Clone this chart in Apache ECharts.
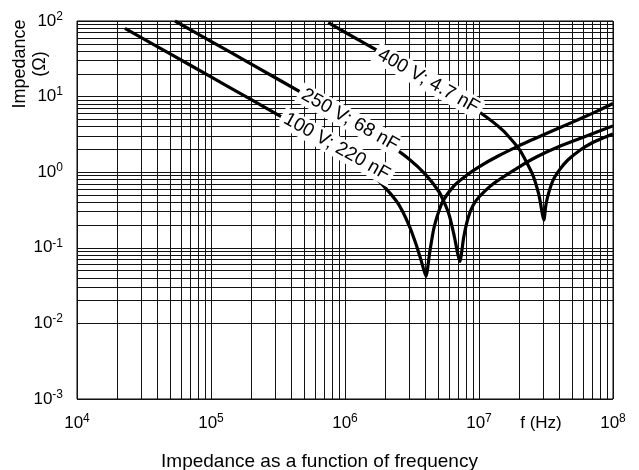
<!DOCTYPE html>
<html>
<head>
<meta charset="utf-8">
<script src="https://cdn.jsdelivr.net/npm/echarts@6/dist/echarts.min.js"></script>
<style>html,body{margin:0;padding:0;background:#fff}#c{width:639px;height:470px}</style>
</head>
<body>
<div id="c"></div>
<script>
// Frequency (Hz), impedance (Ohm)
const curve100V = [[22800,80],[50000,36.5],[100000,18.2],[200000,9.1],[500000,3.6],[1e6,1.72],[1.5e6,1.02],[2e6,0.62],[2.5e6,0.38],[3e6,0.2],[3.4e6,0.11],[3.7e6,0.068],[4.02e6,0.042],[4.3e6,0.09],[4.6e6,0.18],[5e6,0.30],[5.4e6,0.42],[6.5e6,0.66],[8e6,0.9],[1e7,1.18],[1.4e7,1.65],[2e7,2.25],[3e7,3.1],[5e7,4.6],[7e7,6.0],[1e8,8.1]];
const curve250V = [[53800,100],[100000,53.8],[200000,26.9],[500000,10.7],[1e6,5.3],[2e6,2.5],[3e6,1.5],[4e6,0.93],[5e6,0.56],[5.5e6,0.40],[6e6,0.27],[6.5e6,0.15],[7.2e6,0.066],[7.7e6,0.14],[8.3e6,0.25],[9e6,0.36],[1e7,0.47],[1.3e7,0.72],[2e7,1.18],[2.7e7,1.6],[4e7,2.2],[6e7,2.9],[1e8,4.1]];
const curve400V = [[750000,95],[1e6,71],[2e6,35.5],[5e6,14],[1e7,6.3],[1.5e7,3.6],[2e7,2.0],[2.5e7,0.95],[2.8e7,0.5],[3.05e7,0.233],[3.15e7,0.36],[3.3e7,0.52],[3.58e7,0.79],[4e7,1.08],[4.6e7,1.45],[5.7e7,1.97],[7e7,2.45],[8.5e7,2.85],[1e8,3.2]];
const curveLabels = ['100 V; 220 nF','250 V; 68 nF','400 V; 4.7 nF'];
const labelAnchors = [[8.67e5,2.17],[1.09e6,4.9],[4.19e6,16]];
const xDecades = [4,5,6,7,8];
const yDecades = [-3,-2,-1,0,1,2];
const titleText = 'Impedance as a function of frequency';
const yName = 'Impedance\n(Ω)';
const xUnit = 'f (Hz)';

const FONT = '"Liberation Sans", Arial, Helvetica, sans-serif';
const minorX = [], minorY = [];
for (let i = 0; i < xDecades.length - 1; i++) for (let k = 2; k <= 9; k++) minorX.push(k * Math.pow(10, xDecades[i]));
for (let i = 0; i < yDecades.length - 1; i++) for (let k = 2; k <= 9; k++) minorY.push(k * Math.pow(10, yDecades[i]));

const rich = {
  b: {fontSize: 17, fontFamily: FONT, color: '#000'},
  s: {fontSize: 12, fontFamily: FONT, color: '#000', padding: [0,0,9,0]}
};
const fmt = v => '{b|10}{s|' + Math.round(Math.log10(v)) + '}';
const gridLine = {color: '#111', width: 1};

const chart = echarts.init(document.getElementById('c'), null, {renderer: 'canvas'});
const curveStyle = {color: '#000', width: 3.2};
const mkCurve = d => ({type: 'line', data: d, showSymbol: false, symbol: 'none', smooth: 0.2, lineStyle: curveStyle, z: 5, silent: true, animation: false});

chart.setOption({
  animation: false,
  title: {text: titleText, left: 'center', top: 447, textStyle: {fontFamily: FONT, fontSize: 19, fontWeight: 'normal', color: '#000'}},
  grid: {left: 77, right: 26, top: 21, bottom: 71, show: true, borderColor: '#000', borderWidth: 1},
  xAxis: {type: 'log', logBase: 10, min: 1e4, max: 1e8,
    axisLine: {show: false}, axisTick: {show: false},
    splitLine: {show: true, lineStyle: gridLine},
    axisLabel: {formatter: fmt, rich: rich, margin: 14}},
  yAxis: {type: 'log', logBase: 10, min: 1e-3, max: 1e2,
    axisLine: {show: false}, axisTick: {show: false},
    splitLine: {show: true, lineStyle: gridLine},
    axisLabel: {formatter: fmt, rich: rich, margin: 14}},
  series: [
    {type: 'line', data: [[1e4, 1e-3]], symbol: 'none', lineStyle: {opacity: 0}, silent: true, z: 1,
      markLine: {silent: true, symbol: 'none', animation: false, label: {show: false},
        lineStyle: {color: '#111', width: 1, type: 'solid'},
        data: minorX.map(v => ({xAxis: v})).concat(minorY.map(v => ({yAxis: v})))}},
    mkCurve(curve100V), mkCurve(curve250V), mkCurve(curve400V)
  ]
});

const graphics = [];
labelAnchors.forEach((a, i) => {
  const p = chart.convertToPixel({gridIndex: 0}, a);
  graphics.push({type: 'text', x: p[0], y: p[1], rotation: -0.513, z: 20,
    style: {text: curveLabels[i], font: '19px ' + FONT, fill: '#000', align: 'center', verticalAlign: 'middle',
      backgroundColor: '#fff', padding: [1, 4, 1, 4]}});
});
graphics.push({type: 'text', x: 30, y: 64, rotation: Math.PI / 2, z: 20,
  style: {text: yName, font: '18px ' + FONT, fill: '#000', align: 'center', verticalAlign: 'middle', lineHeight: 20}});
graphics.push({type: 'text', x: 541, y: 423, z: 20,
  style: {text: xUnit, font: '17px ' + FONT, fill: '#000', align: 'center', verticalAlign: 'middle'}});
chart.setOption({graphic: graphics});
</script>
</body>
</html>
